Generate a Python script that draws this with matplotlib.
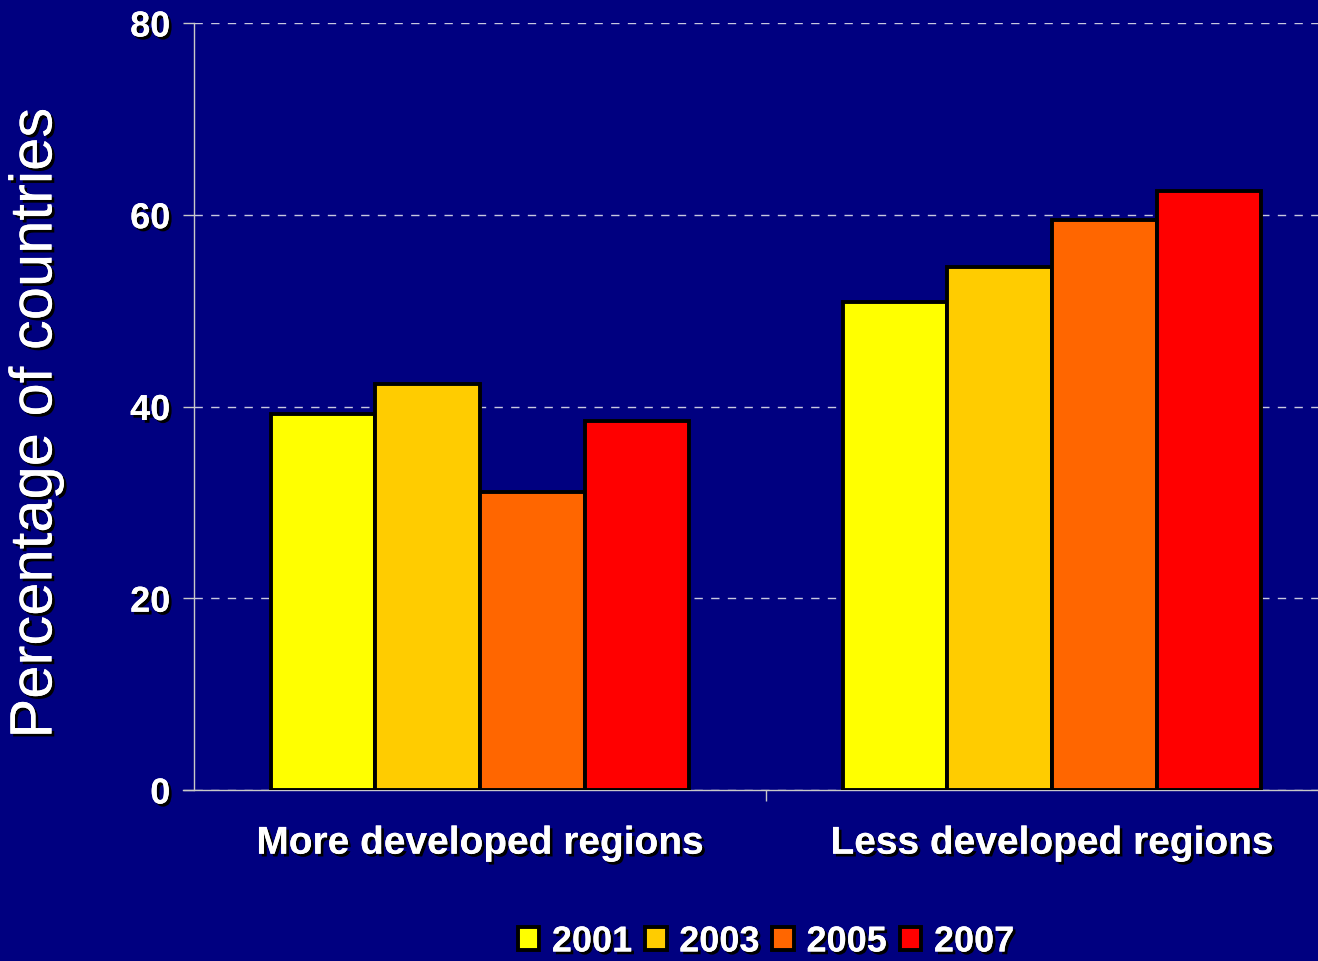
import matplotlib
matplotlib.use("Agg")
import matplotlib.pyplot as plt
import matplotlib.patheffects as pe
import numpy as np

categories = ["More developed regions", "Less developed regions"]
years = ["2001", "2003", "2005", "2007"]
values = {
    "2001": [39.2, 50.9],
    "2003": [42.3, 54.6],
    "2005": [31.1, 59.5],
    "2007": [38.5, 62.5],
}
colors = ["#FFFF00", "#FFCC00", "#FF6600", "#FF0000"]
yticks = [0, 20, 40, 60, 80]

plt.rcParams['font.family'] = ['Liberation Sans', 'DejaVu Sans']
W, H = 1318, 962
fig = plt.figure(figsize=(W / 100, H / 100), dpi=100)
fig.patch.set_facecolor("#000080")

ax = fig.add_axes([194 / W, 1 - 791 / H, (1338 - 194) / W, (791 - 24) / H])
ax.set_facecolor("#000080")

shadow = [pe.withSimplePatchShadow(offset=(2, -2), shadow_rgbFace='black', alpha=1.0), pe.Normal()]

x = np.arange(len(categories))
bw = 0.183
n = len(years)
for i, (yr, c) in enumerate(zip(years, colors)):
    offs = (i - (n - 1) / 2) * bw
    ax.bar(x + offs, values[yr], width=bw, color=c, edgecolor="black", linewidth=2.8, zorder=3, label=yr)

ax.set_xlim(-0.5, 1.5)
ax.set_ylim(0, 80)
ax.set_yticks(yticks)
ax.set_yticklabels([str(v) for v in yticks], fontsize=26, fontweight='bold', color='white', path_effects=shadow)
ax.yaxis.grid(True, linestyle=(0, (6, 6)), color="#C8C8E0", linewidth=1, zorder=1)
ax.set_axisbelow(True)

ax.set_xticks([0.5])
ax.set_xticklabels([""])
ax.tick_params(axis='x', length=8, color='#C8C8C8', width=1)
ax.tick_params(axis='y', length=8, color='#C8C8C8', width=1, pad=9)
for i, cat in enumerate(categories):
    ax.text(i, -5.6, cat, ha='center', va='center', fontsize=28, fontweight='bold', color='white',
            path_effects=shadow, transform=ax.transData, clip_on=False)

for s in ['top', 'right']:
    ax.spines[s].set_visible(False)
ax.spines['left'].set_color('#C8C8C8')
ax.spines['bottom'].set_color('#C8C8C8')
ax.spines['left'].set_linewidth(1)
ax.spines['bottom'].set_linewidth(1)
ax.spines['bottom'].set_bounds(-0.52, 1.5)

fig.text(36 / W, 1 - 424 / H, "Percentage of countries", rotation=90, ha='center', va='center',
         fontsize=43, color='white', path_effects=shadow)

leg = fig.legend(loc='center', bbox_to_anchor=(766 / W, 1 - 943 / H), ncol=4, frameon=False,
                 fontsize=26, handlelength=0.6, handleheight=0.6, handletextpad=0.35, columnspacing=0.35,
                 borderpad=0.1)
for t in leg.get_texts():
    t.set_color('white')
    t.set_fontweight('bold')
    t.set_path_effects(shadow)

fig.savefig("out.png", dpi=100, facecolor=fig.get_facecolor())
